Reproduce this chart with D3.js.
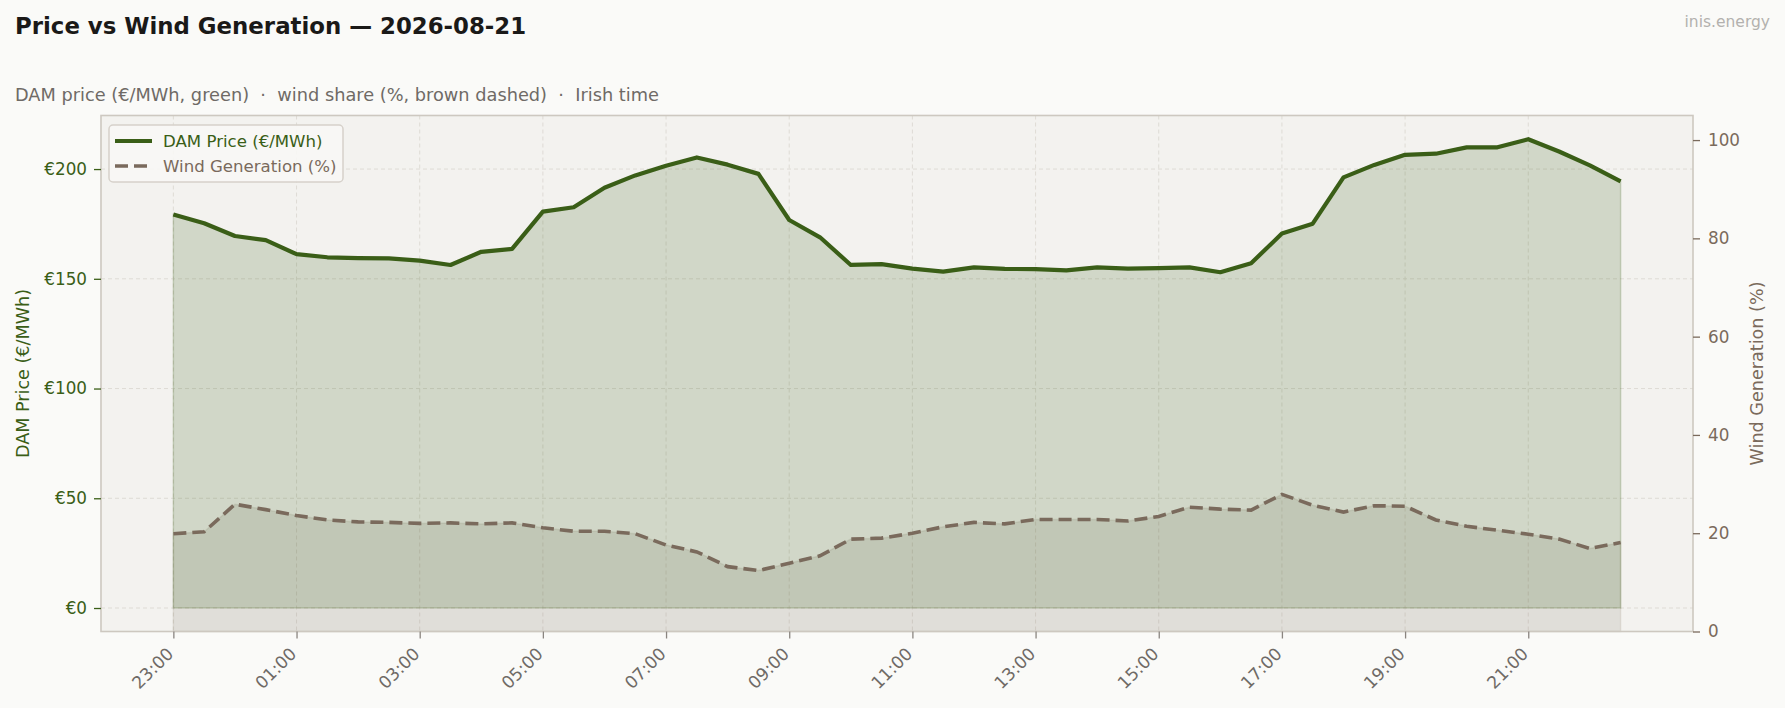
<!DOCTYPE html>
<html>
<head>
<meta charset="utf-8">
<script src="https://cdn.jsdelivr.net/npm/d3@7"></script>
<style>
  html, body { margin: 0; padding: 0; background: #fafaf8; }
  svg { display: block; font-family: "DejaVu Sans", sans-serif; }
</style>
</head>
<body>
<div id="chart"></div>
<script>
// half-hourly slots, Irish time
var times = ["23:00","23:30","00:00","00:30","01:00","01:30","02:00","02:30",
  "03:00","03:30","04:00","04:30","05:00","05:30","06:00","06:30",
  "07:00","07:30","08:00","08:30","09:00","09:30","10:00","10:30",
  "11:00","11:30","12:00","12:30","13:00","13:30","14:00","14:30",
  "15:00","15:30","16:00","16:30","17:00","17:30","18:00","18:30",
  "19:00","19:30","20:00","20:30","21:00","21:30","22:00","22:30"];

// DAM price, EUR/MWh
var price = [179.3,175.3,169.5,167.6,161.2,159.8,159.4,159.3,
  158.3,156.3,162.3,163.6,180.6,182.6,191.5,197.1,
  201.5,205.3,202.0,197.8,176.8,168.9,156.3,156.7,
  154.6,153.3,155.2,154.5,154.4,153.8,155.2,154.6,
  154.9,155.2,153.0,157.1,170.6,175.1,196.2,201.9,
  206.5,207.0,209.9,209.9,213.6,208.0,201.7,194.4];

// wind share of generation, %
var wind = [19.9,20.3,25.9,24.8,23.6,22.7,22.3,22.2,
  22.0,22.1,21.9,22.1,21.1,20.4,20.4,19.9,
  17.6,16.2,13.2,12.4,13.9,15.4,18.8,19.0,
  20.0,21.3,22.2,21.9,22.8,22.8,22.8,22.5,
  23.4,25.3,24.9,24.7,27.9,25.7,24.3,25.6,
  25.5,22.7,21.4,20.6,19.8,18.8,16.9,18.1];

var priceTicks = [0, 50, 100, 150, 200];
var windTicks = [0, 20, 40, 60, 80, 100];
var timeTicks = times.filter(function (d, i) { return i % 4 === 0; });

var width = 1785;
var height = 708;
var m = { left: 101, right: 1693, top: 115.5, bottom: 631.5 };

var green = "#3a5e17";
var brown = "#7a6a5c";
var grey = "#6f6a66";

var svg = d3.select("#chart")
  .append("svg")
  .attr("width", width)
  .attr("height", height);

svg.append("rect")
  .attr("width", width)
  .attr("height", height)
  .attr("fill", "#fafaf8");

// scales
var x = d3.scalePoint()
  .domain(times)
  .range([m.left, m.right])
  .padding(2.35);
var yP = d3.scaleLinear().domain([-10.7, 224.4]).range([m.bottom, m.top]);
var yW = d3.scaleLinear().domain([0, 105]).range([m.bottom, m.top]);

// titles
svg.append("text")
  .attr("x", 15)
  .attr("y", 34)
  .attr("font-size", 22.85)
  .attr("font-weight", "bold")
  .attr("fill", "#1a1918")
  .text("Price vs Wind Generation \u2014 2026-08-21");

svg.append("text")
  .attr("x", 15)
  .attr("y", 101)
  .attr("font-size", 17.75)
  .attr("fill", grey)
  .style("white-space", "pre")
  .text("DAM price (\u20ac/MWh, green)  \u00b7  wind share (%, brown dashed)  \u00b7  Irish time");

svg.append("text")
  .attr("x", 1770)
  .attr("y", 27)
  .attr("text-anchor", "end")
  .attr("font-size", 15.5)
  .attr("fill", "#b3b1ae")
  .text("inis.energy");

// plot background
svg.append("rect")
  .attr("x", m.left)
  .attr("y", m.top)
  .attr("width", m.right - m.left)
  .attr("height", m.bottom - m.top)
  .attr("fill", "#f3f2ef");

// grid
var grid = svg.append("g")
  .attr("stroke", "#dedbd5")
  .attr("stroke-width", 1)
  .attr("stroke-dasharray", "4,3");
grid.selectAll(".gx").data(timeTicks).enter().append("line")
  .attr("x1", function (d) { return x(d); })
  .attr("x2", function (d) { return x(d); })
  .attr("y1", m.top)
  .attr("y2", m.bottom);
grid.selectAll(".gy").data(priceTicks).enter().append("line")
  .attr("x1", m.left)
  .attr("x2", m.right)
  .attr("y1", function (d) { return yP(d); })
  .attr("y2", function (d) { return yP(d); });

// fills
var priceArea = d3.area()
  .x(function (d, i) { return x(times[i]); })
  .y0(yP(0))
  .y1(function (d) { return yP(d); });
var windArea = d3.area()
  .x(function (d, i) { return x(times[i]); })
  .y0(yW(0))
  .y1(function (d) { return yW(d); });

svg.append("path")
  .attr("d", windArea(wind))
  .attr("fill", brown)
  .attr("fill-opacity", 0.15)
  .attr("stroke", brown)
  .attr("stroke-opacity", 0.12)
  .attr("stroke-width", 1.5);

svg.append("path")
  .attr("d", priceArea(price))
  .attr("fill", green)
  .attr("fill-opacity", 0.18)
  .attr("stroke", green)
  .attr("stroke-opacity", 0.2)
  .attr("stroke-width", 1.5);

// lines
var priceLine = d3.line()
  .x(function (d, i) { return x(times[i]); })
  .y(function (d) { return yP(d); });
var windLine = d3.line()
  .x(function (d, i) { return x(times[i]); })
  .y(function (d) { return yW(d); });

svg.append("path")
  .attr("d", priceLine(price))
  .attr("fill", "none")
  .attr("stroke", green)
  .attr("stroke-width", 4.2)
  .attr("stroke-linejoin", "round");

svg.append("path")
  .attr("d", windLine(wind))
  .attr("fill", "none")
  .attr("stroke", brown)
  .attr("stroke-width", 3.6)
  .attr("stroke-dasharray", "13,6");

// frame
svg.append("rect")
  .attr("x", m.left)
  .attr("y", m.top)
  .attr("width", m.right - m.left)
  .attr("height", m.bottom - m.top)
  .attr("fill", "none")
  .attr("stroke", "#cdc8c0")
  .attr("stroke-width", 1.6);

// axes
var axL = svg.append("g")
  .attr("transform", "translate(" + m.left + ",0)")
  .call(d3.axisLeft(yP).tickValues(priceTicks).tickSize(7).tickPadding(7)
    .tickFormat(function (d) { return "\u20ac" + d; }));
axL.select(".domain").remove();
axL.selectAll("line").attr("stroke", green).attr("stroke-width", 1.3);
axL.selectAll("text").attr("fill", green).attr("font-size", 16.8)
  .attr("font-family", "DejaVu Sans");

var axR = svg.append("g")
  .attr("transform", "translate(" + m.right + ",0)")
  .call(d3.axisRight(yW).tickValues(windTicks).tickSize(7).tickPadding(8));
axR.select(".domain").remove();
axR.selectAll("line").attr("stroke", brown).attr("stroke-width", 1.3);
axR.selectAll("text").attr("fill", brown).attr("font-size", 16.8)
  .attr("font-family", "DejaVu Sans");

var axB = svg.append("g")
  .attr("transform", "translate(0," + m.bottom + ")")
  .call(d3.axisBottom(x).tickValues(timeTicks).tickSize(7));
axB.select(".domain").remove();
axB.selectAll("line").attr("stroke", "#8a8580").attr("stroke-width", 1.3);
axB.selectAll("text")
  .attr("fill", grey)
  .attr("font-size", 17.2)
  .attr("font-family", "DejaVu Sans")
  .attr("text-anchor", "end")
  .attr("dy", "0.7em")
  .attr("y", 0)
  .attr("transform", "translate(-8,15) rotate(-45)");

// axis titles
svg.append("text")
  .attr("transform", "translate(29," + ((m.top + m.bottom) / 2) + ") rotate(-90)")
  .attr("text-anchor", "middle")
  .attr("font-size", 17.6)
  .attr("fill", green)
  .text("DAM Price (\u20ac/MWh)");

svg.append("text")
  .attr("transform", "translate(1763," + ((m.top + m.bottom) / 2) + ") rotate(-90)")
  .attr("text-anchor", "middle")
  .attr("font-size", 17.6)
  .attr("fill", brown)
  .text("Wind Generation (%)");

// legend
var lg = svg.append("g").attr("transform", "translate(109,125)");
lg.append("rect")
  .attr("width", 234)
  .attr("height", 57)
  .attr("rx", 4)
  .attr("fill", "#f8f7f5")
  .attr("fill-opacity", 0.9)
  .attr("stroke", "#d6d1ca")
  .attr("stroke-width", 1.5);

var items = [
  { name: "DAM Price (\u20ac/MWh)", color: green, dash: null, w: 4.2 },
  { name: "Wind Generation (%)", color: brown, dash: "13,6", w: 3.6 }
];
items.forEach(function (it, i) {
  var yy = 16 + i * 25;
  lg.append("line")
    .attr("x1", 6).attr("x2", 43)
    .attr("y1", yy).attr("y2", yy)
    .attr("stroke", it.color)
    .attr("stroke-width", it.w)
    .attr("stroke-dasharray", it.dash);
  lg.append("text")
    .attr("x", 54)
    .attr("y", yy)
    .attr("dy", "0.36em")
    .attr("font-size", 16.6)
    .attr("fill", it.color)
    .text(it.name);
});
</script>
</body>
</html>
